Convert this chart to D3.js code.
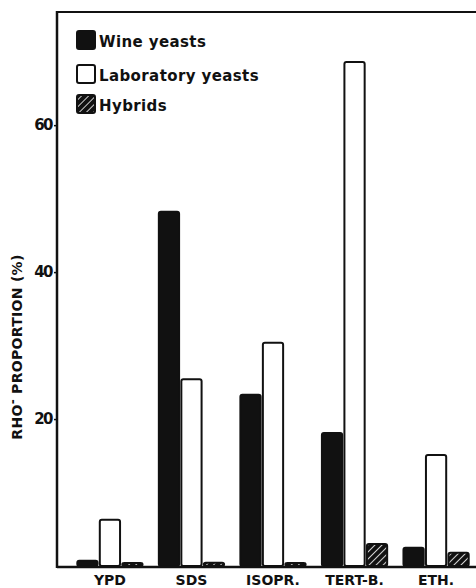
<!DOCTYPE html>
<html><head><meta charset="utf-8">
<script src="https://cdn.jsdelivr.net/npm/d3@7/dist/d3.min.js"></script>
<style>body{margin:0;background:#fff}svg{display:block}</style>
</head><body>
<svg id="c" width="476" height="588"></svg>
<script>
const categories = ["YPD", "SDS", "ISOPR.", "TERT-B.", "ETH."];
const series = ["Wine yeasts", "Laboratory yeasts", "Hybrids"];
const wineYeasts = [0.7, 48.2, 23.3, 18.1, 2.5];
const labYeasts = [6.3, 25.4, 30.4, 68.6, 15.1];
const hybrids = [0.4, 0.45, 0.4, 3.0, 1.8];
const yTicks = [20, 40, 60];
const yLabel = "RHO";

const values = [wineYeasts, labYeasts, hybrids];
const svg = d3.select("#c");
const font = "'DejaVu Sans', sans-serif";
const X0 = 57, TOP = 12, BASE = 566;

const defs = svg.append("defs");
const pat = defs.append("pattern").attr("id", "hatch").attr("patternUnits", "userSpaceOnUse")
  .attr("width", 5).attr("height", 5).attr("patternTransform", "rotate(45)");
pat.append("rect").attr("width", 5).attr("height", 5).attr("fill", "#111");
pat.append("line").attr("x1", 0).attr("y1", 0).attr("x2", 0).attr("y2", 5)
  .attr("stroke", "#fff").attr("stroke-width", 1.6);

const fills = ["#111", "#fff", "url(#hatch)"];

const y = d3.scaleLinear().domain([0, 75.4]).range([BASE, TOP]);
const x0 = d3.scaleBand().domain(categories).range([61, 485]).paddingInner(0.2).paddingOuter(0.2);
const x1 = d3.scaleBand().domain(series).range([0, x0.bandwidth()]).paddingInner(0.1);

// bars
const g = svg.append("g");
categories.forEach((c, i) => {
  series.forEach((s, j) => {
    const v = values[j][i];
    g.append("rect")
      .attr("x", x0(c) + x1(s))
      .attr("y", y(v))
      .attr("width", x1.bandwidth())
      .attr("height", BASE - y(v))
      .attr("rx", 2)
      .attr("fill", fills[j])
      .attr("stroke", "#111")
      .attr("stroke-width", 2);
  });
});

// frame lines
svg.append("line").attr("x1", X0).attr("x2", 476).attr("y1", TOP).attr("y2", TOP)
  .attr("stroke", "#111").attr("stroke-width", 2);
svg.append("line").attr("x1", X0).attr("x2", 476).attr("y1", BASE + 1).attr("y2", BASE + 1)
  .attr("stroke", "#111").attr("stroke-width", 2.5);

// y axis
const yAxis = d3.axisLeft(y).tickValues(yTicks).tickSize(3).tickPadding(2).tickFormat(d3.format("d"));
const ya = svg.append("g").attr("transform", `translate(${X0},0)`).call(yAxis);
ya.select(".domain").remove();
ya.selectAll(".tick line").attr("stroke", "#111").attr("stroke-width", 1.5);
ya.selectAll(".tick text").attr("font-family", font).attr("font-weight", "bold")
  .attr("font-size", 15).attr("fill", "#111").attr("letter-spacing", -1.5);
svg.append("line").attr("x1", X0).attr("x2", X0).attr("y1", TOP - 1).attr("y2", BASE + 2)
  .attr("stroke", "#111").attr("stroke-width", 2.5);

// x axis labels
const xAxis = d3.axisBottom(x0).tickSize(0).tickPadding(0);
const xa = svg.append("g").attr("transform", `translate(0,${BASE})`).call(xAxis);
xa.select(".domain").remove();
xa.selectAll(".tick text").attr("font-family", font).attr("font-weight", "bold")
  .attr("font-size", 14).attr("fill", "#111").attr("dy", null).attr("y", 19);

// y label
const yl = svg.append("text").attr("transform", "translate(22,347) rotate(-90)")
  .attr("text-anchor", "middle").attr("font-family", font).attr("font-weight", "bold")
  .attr("font-size", 14).attr("letter-spacing", 0.3).attr("fill", "#111");
yl.append("tspan").text(yLabel);
yl.append("tspan").attr("dy", -5).attr("font-size", 12).text("-");
yl.append("tspan").attr("dy", 5).text(" PROPORTION (%)");

// legend
const leg = svg.append("g");
const rows = [31, 65, 95];
series.forEach((s, j) => {
  leg.append("rect").attr("x", 77).attr("y", rows[j]).attr("width", 18).attr("height", 18)
    .attr("rx", 2).attr("fill", fills[j]).attr("stroke", "#111").attr("stroke-width", 2);
  leg.append("text").attr("x", 99).attr("y", rows[j] + 16).attr("font-family", font)
    .attr("font-weight", "bold").attr("font-size", 15).attr("letter-spacing", 0.4)
    .attr("fill", "#111").text(s);
});
</script>
</body></html>
